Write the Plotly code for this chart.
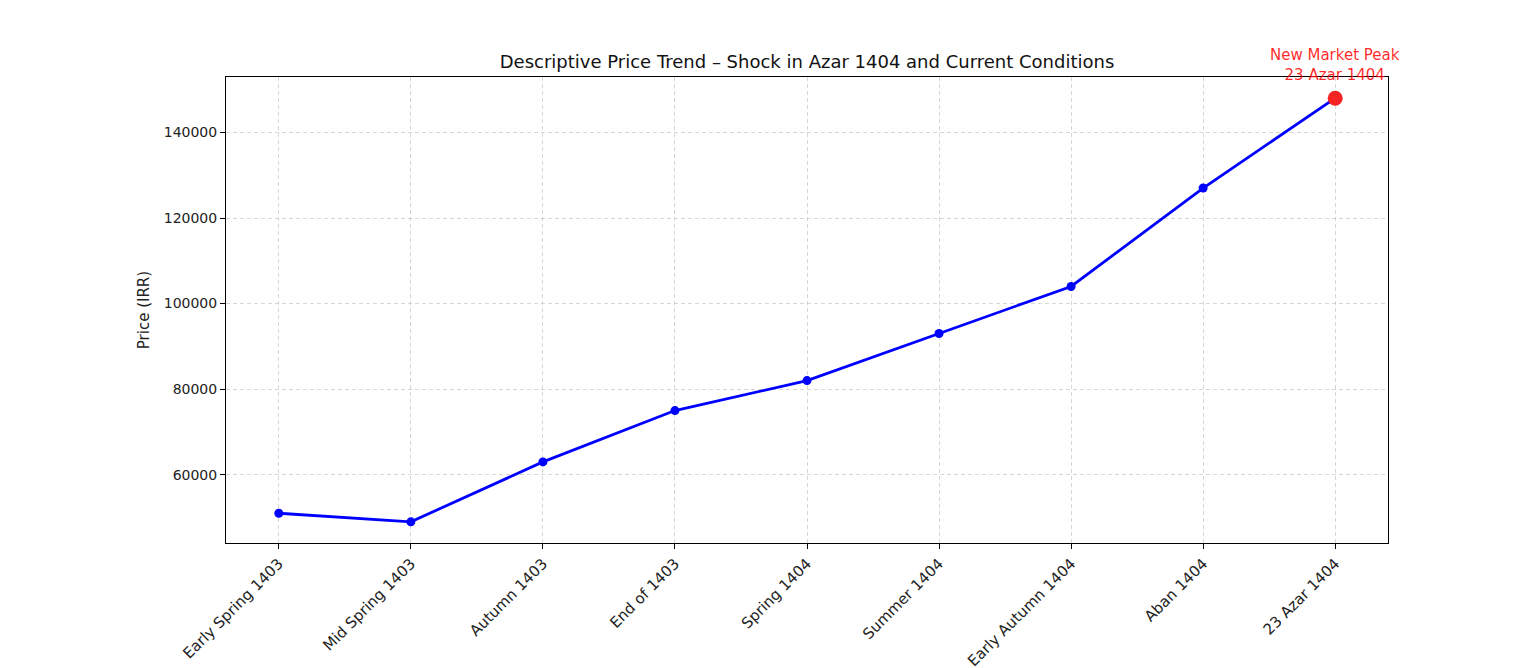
import plotly.graph_objects as go

periods = ["Early Spring 1403", "Mid Spring 1403", "Autumn 1403", "End of 1403",
           "Spring 1404", "Summer 1404", "Early Autumn 1404", "Aban 1404", "23 Azar 1404"]
prices = [51000, 49000, 63000, 75000, 82000, 93000, 104000, 127000, 148000]
y_ticks = [60000, 80000, 100000, 120000, 140000]
peak_label = "New Market Peak<br>23 Azar 1404"

x_idx = list(range(len(periods)))
FONT = "DejaVu Sans"

fig = go.Figure()
fig.add_trace(go.Scatter(
    x=x_idx, y=prices, mode="lines+markers",
    line=dict(color="#0000ff", width=2.8),
    marker=dict(color="#0000ff", size=9),
    showlegend=False, cliponaxis=False,
))
fig.add_trace(go.Scatter(
    x=[x_idx[-1]], y=[prices[-1]], mode="markers",
    marker=dict(color="#f42424", size=15, line=dict(width=0)),
    showlegend=False, cliponaxis=False,
))

ymin, ymax = min(prices), max(prices)
pad = (ymax - ymin) * 0.05
grid = dict(showgrid=True, gridcolor="rgba(176,176,176,0.5)", griddash="4px,3px", gridwidth=1)
fig.update_layout(
    width=1518, height=668,
    margin=dict(l=218, r=138, t=69, b=133),
    paper_bgcolor="white", plot_bgcolor="white",
    font=dict(family=FONT, size=14, color="#222"),
    title=dict(text="Descriptive Price Trend – Shock in Azar 1404 and Current Conditions",
               x=(218 + 1380) / 2 / 1518, xanchor="center", y=1 - 54 / 668, yanchor="middle",
               font=dict(size=18, color="#111")),
    xaxis=dict(range=[-0.4, len(periods) - 1 + 0.4], tickvals=x_idx, ticktext=periods,
               tickangle=-45, showline=True, linecolor="black", linewidth=1, mirror=True,
               ticks="outside", ticklen=5, tickcolor="black", automargin=False,
               zeroline=False, tickfont=dict(size=15, color="#222"), **grid),
    yaxis=dict(range=[ymin - pad, ymax + pad], tickvals=y_ticks, tickformat="d",
               showline=True, linecolor="black", linewidth=1, mirror=True,
               ticks="outside", ticklen=5, tickcolor="black", automargin=False,
               zeroline=False, tickfont=dict(size=14, color="#222"),
               title=dict(text="Price (IRR)", font=dict(size=15, color="#222"), standoff=10),
               **grid),
    annotations=[dict(x=x_idx[-1], y=prices[-1], text=peak_label, showarrow=False,
                      xanchor="center", yanchor="bottom", yshift=12,
                      font=dict(size=15, color="rgba(255,0,0,0.85)"))],
)

fig.write_html("out.html")
